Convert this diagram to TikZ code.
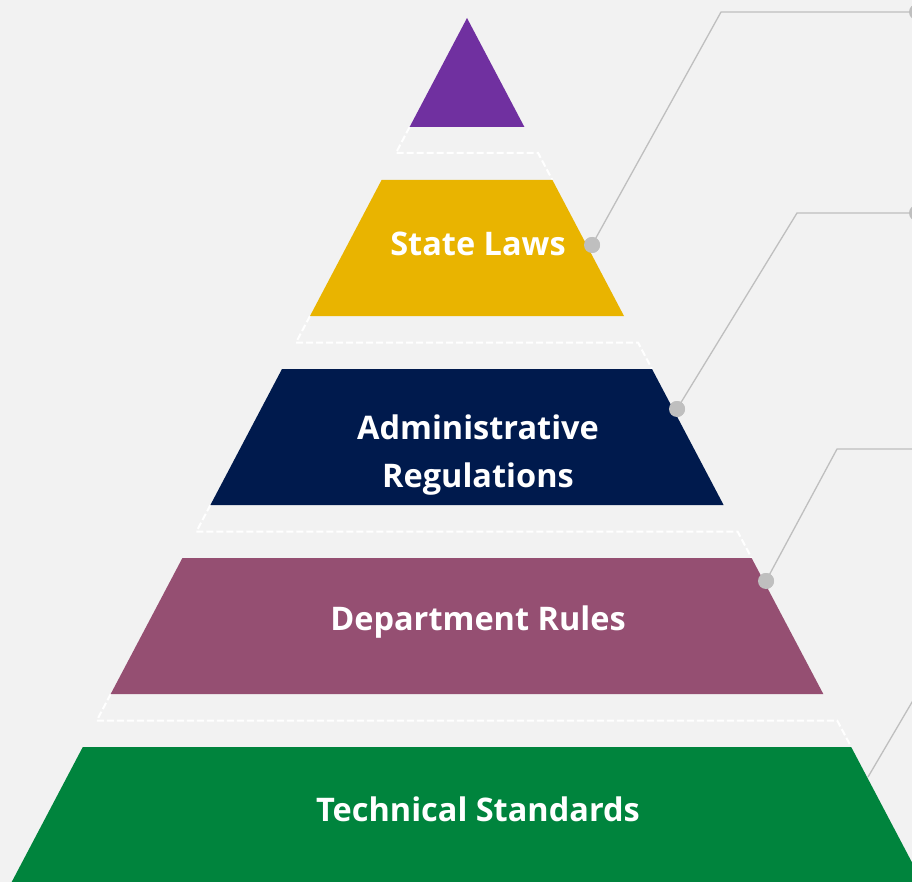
\documentclass[tikz,border=0pt]{standalone}
\usepackage{fontspec}
\newfontfamily\lblfont{Open Sans}
\usetikzlibrary{calc}
\definecolor{bg}{HTML}{F2F2F2}
\definecolor{cpurple}{HTML}{7030A0}
\definecolor{cyellow}{HTML}{E9B400}
\definecolor{cnavy}{HTML}{001A4D}
\definecolor{cpink}{HTML}{954F72}
\definecolor{cgreen}{HTML}{00843D}
\definecolor{cgray}{HTML}{BFBFBF}
\tikzset{
  gapline/.style={draw=white, line width=2pt, dash pattern=on 7pt off 3pt},
  conn/.style={draw=cgray, line width=1.3pt},
  dot/.style={circle, fill=cgray, inner sep=0pt, minimum size=16pt},
  lbl/.style={text=white, font=\lblfont\bfseries\fontsize{32.5}{48}\selectfont, align=center},
}
\begin{document}
\begin{tikzpicture}[x=1pt,y=-1pt]
\fill[bg] (0,0) rectangle (912,882);
\useasboundingbox (0,0) rectangle (912,882);
% dashed gap outlines
\draw[gapline] (409.6,127) -- (395.9,153) -- (538.1,153) -- (552.4,180);
\draw[gapline] (310,316) -- (296,342.5) -- (638,342.5) -- (652,369);
\draw[gapline] (210.4,505) -- (196.4,531.5) -- (737.6,531.5) -- (751.6,558);
\draw[gapline] (110.7,694) -- (96.8,720.5) -- (837.2,720.5) -- (851.2,747);
% connectors
\coordinate (c1) at (721,12);
\coordinate (c2) at (797,213);
\coordinate (c3) at (837,449);
\coordinate (c4) at (868,777);
\coordinate (e3) at (913,449);
\coordinate (e4) at (915,697);
\node[dot] (d1) at (592,245) {};
\node[dot] (d2) at (677,409) {};
\node[dot] (d3) at (766,581) {};
\node[dot] (r1) at (917,12) {};
\node[dot] (r2) at (917,213) {};
\draw[conn] (d1.center) -- (c1) -- (r1.center);
\draw[conn] (d2.center) -- (c2) -- (r2.center);
\draw[conn] (d3.center) -- (c3) -- (e3);
\draw[conn] (c4) -- (e4);
% layers
\fill[cpurple] (467,18) -- (524.4,127) -- (409.6,127) -- cycle;
\fill[cyellow] (381.6,180) -- (552.4,180) -- (624,316) -- (310,316) -- cycle;
\fill[cnavy] (282,369) -- (652,369) -- (723.6,505) -- (210.4,505) -- cycle;
\fill[cpink] (182.4,558) -- (751.6,558) -- (823.3,694) -- (110.7,694) -- cycle;
\fill[cgreen] (82.8,747) -- (851.2,747) -- (922.3,882) -- (11.7,882) -- cycle;
% dots on top of layers
\fill[cgray] (d1) circle (8pt);
\fill[cgray] (d2) circle (8pt);
\fill[cgray] (d3) circle (8pt);
% labels
\node[lbl] (t1) at (478,244) {State Laws};
\node[lbl] (t2) at (478,455) {Administrative\\Regulations};
\node[lbl] (t3) at (478,622) {Department Rules};
\node[lbl] (t4) at (478,809) {Technical Standards};
\end{tikzpicture}
\end{document}
